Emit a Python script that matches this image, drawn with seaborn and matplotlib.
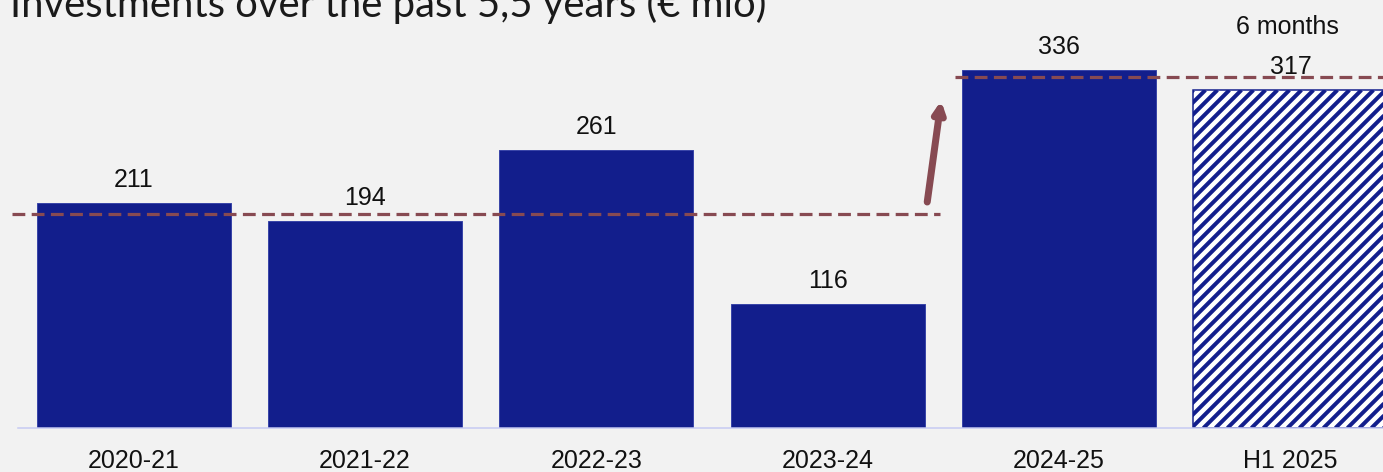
import matplotlib
matplotlib.use("Agg")
import matplotlib.pyplot as plt
import seaborn as sns
import pandas as pd
import numpy as np
from matplotlib.collections import LineCollection
from matplotlib.transforms import IdentityTransform

categories = ["2020-21", "2021-22", "2022-23", "2023-24", "2024-25", "H1 2025"]
values = [211, 194, 261, 116, 336, 317]
value_labels = ["211", "194", "261", "116", "336", "317"]
title = "Investments over the past 5,5 years (€ mio)"
note = "6 months"
ref_levels = [201, 329]

BG = "#f2f2f2"
BLUE = "#121e8c"
RED = "#874a52"

sns.set_theme(style="white")
plt.rcParams["font.family"] = ["Liberation Sans", "DejaVu Sans"]

DPI = 72
W, H = 1383, 472
fig = plt.figure(figsize=(W / DPI, H / DPI), dpi=DPI, facecolor=BG)
ax = fig.add_axes([18 / W, 1 - 428 / H, 1 - 18 / W, 428 / H])
ax.set_facecolor(BG)

df = pd.DataFrame({"cat": categories, "val": values})
sns.barplot(data=df, x="cat", y="val", color=BLUE, width=0.839, saturation=1,
            edgecolor="#3a46a8", linewidth=1, ax=ax)

ax.set_xlim(-0.5, 5.40)
ax.set_ylim(0, 401.5)

patches = ax.patches
last = patches[-1]
last.set_facecolor("white")
last.set_edgecolor(BLUE)
last.set_linewidth(1.5)

# diagonal stripe fill for the partial-year bar (style: 12 px pitch)
(px0, py0) = ax.transData.transform((last.get_x(), 0))
(px1, py1) = ax.transData.transform((last.get_x() + last.get_width(), last.get_height()))
hgt = py1 - py0
pitch = 12.0
starts = np.arange(px0 - hgt - pitch, px1 + pitch, pitch)
segs = [[(s, py0), (s + hgt, py1)] for s in starts]
lc = LineCollection(segs, colors=BLUE, linewidths=4.0, transform=IdentityTransform(),
                    zorder=last.get_zorder() + 0.1)
ax.add_collection(lc, autolim=False)
lc.set_clip_path(last)

for sp in ["top", "right", "left"]:
    ax.spines[sp].set_visible(False)
ax.spines["bottom"].set_color("#c5c9f2")
ax.spines["bottom"].set_linewidth(1.5)
ax.set_yticks([])
ax.set_xlabel("")
ax.set_ylabel("")
ax.tick_params(axis="x", length=0, pad=21, labelsize=25, labelcolor="#111111")

for i, (p, lab) in enumerate(zip(patches, value_labels)):
    cx = p.get_x() + p.get_width() / 2
    ax.annotate(lab, (cx, p.get_height()), xytext=(0, 16), textcoords="offset points",
                ha="center", va="baseline", fontsize=25, color="#111111", zorder=5)

p = patches[-1]
ax.annotate(note, (p.get_x() + p.get_width() / 2 - 0.013, p.get_height()), xytext=(0, 56),
            textcoords="offset points", ha="center", va="baseline", fontsize=25,
            color="#111111", annotation_clip=False)

# reference dashed levels
ax.plot([-0.527, 3.485], [ref_levels[0]] * 2, color=RED, lw=3.2, dashes=(4, 2),
        clip_on=False, dash_capstyle="butt", zorder=4)
ax.plot([3.55, 5.45], [ref_levels[1]] * 2, color=RED, lw=3.2, dashes=(4, 2),
        clip_on=False, dash_capstyle="butt", zorder=4)

# arrow
ax.annotate("", xy=(3.49, 307), xytext=(3.43, 212),
            arrowprops=dict(arrowstyle="-|>,head_length=0.75,head_width=0.38",
                            color=RED, lw=7, shrinkA=0, shrinkB=0))

fig.text(10 / W, 1 - 17 / H, title, ha="left", va="baseline", fontsize=40,
         color="#1a1a1a", fontfamily=["Lato", "DejaVu Sans"], fontweight="normal")

fig.savefig("out.png", dpi=DPI, facecolor=BG)
